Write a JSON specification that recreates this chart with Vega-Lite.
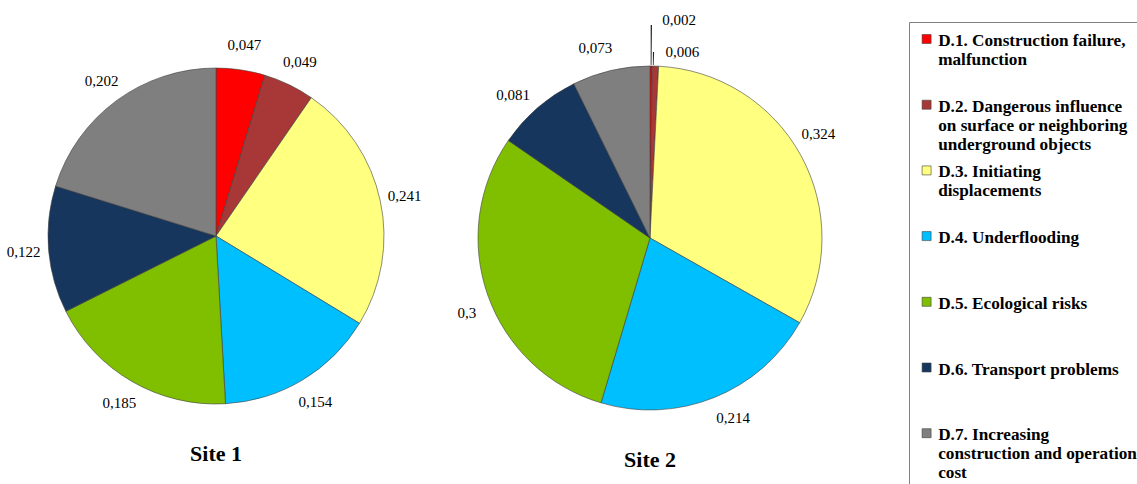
{
  "$schema": "https://vega.github.io/schema/vega-lite/v6.json",
  "padding": 0,
  "background": "white",
  "datasets": {
    "shares": [
      {"site": "Site 1", "category": "D.1. Construction failure,|malfunction", "value": 0.047},
      {"site": "Site 1", "category": "D.2. Dangerous influence|on surface or neighboring|underground objects", "value": 0.049},
      {"site": "Site 1", "category": "D.3. Initiating|displacements", "value": 0.241},
      {"site": "Site 1", "category": "D.4. Underflooding", "value": 0.154},
      {"site": "Site 1", "category": "D.5. Ecological risks", "value": 0.185},
      {"site": "Site 1", "category": "D.6. Transport problems", "value": 0.122},
      {"site": "Site 1", "category": "D.7. Increasing|construction and operation|cost", "value": 0.202},
      {"site": "Site 2", "category": "D.1. Construction failure,|malfunction", "value": 0.002},
      {"site": "Site 2", "category": "D.2. Dangerous influence|on surface or neighboring|underground objects", "value": 0.006},
      {"site": "Site 2", "category": "D.3. Initiating|displacements", "value": 0.324},
      {"site": "Site 2", "category": "D.4. Underflooding", "value": 0.214},
      {"site": "Site 2", "category": "D.5. Ecological risks", "value": 0.3},
      {"site": "Site 2", "category": "D.6. Transport problems", "value": 0.081},
      {"site": "Site 2", "category": "D.7. Increasing|construction and operation|cost", "value": 0.073}
    ]
  },
  "data": {"name": "shares"},
  "config": {
    "view": {"stroke": null},
    "locale": {"number": {"decimal": ",", "thousands": ".", "grouping": [3], "currency": ["", ""]}},
    "text": {"font": "Liberation Serif", "fontSize": 15, "color": "black"},
    "title": {"font": "Liberation Serif", "fontSize": 22, "fontWeight": "bold", "color": "black"}
  },
  "hconcat": [
    {
      "width": 432,
      "height": 472,
      "title": {"text": "Site 1", "orient": "bottom", "offset": -28, "anchor": "middle"},
      "transform": [{"filter": "datum.site === 'Site 1'"}],
      "encoding": {
        "theta": {"field": "value", "type": "quantitative", "stack": true},
        "order": {"field": "category", "sort": "ascending"}
      },
      "layer": [
        {
          "mark": {"type": "arc", "outerRadius": 168, "stroke": "#404040", "strokeWidth": 0.6},
          "encoding": {
            "color": {
              "field": "category", "type": "nominal",
              "scale": {
                "domain": ["D.1. Construction failure,|malfunction", "D.2. Dangerous influence|on surface or neighboring|underground objects", "D.3. Initiating|displacements", "D.4. Underflooding", "D.5. Ecological risks", "D.6. Transport problems", "D.7. Increasing|construction and operation|cost"],
                "range": ["#FF0000", "#A83838", "#FFFF80", "#00BFFF", "#7FBF00", "#17365D", "#7F7F7F"]
              },
              "legend": {
                "orient": "none", "legendX": 909, "legendY": 22,
                "title": null,
                "strokeColor": "#808080", "padding": 9,
                "symbolType": "square", "symbolSize": 81, "symbolStrokeColor": "#404040", "symbolStrokeWidth": 0.6,
                "labelFont": "Liberation Serif", "labelFontSize": 17.2, "labelFontWeight": "bold", "labelColor": "black",
                "labelBaseline": "top", "labelLimit": 300, "labelOffset": 3,
                "labelExpr": "split(datum.label, '|')",
                "clipHeight": 60, "rowPadding": 5.7,
                "encode": {
                  "labels": {"update": {"lineHeight": {"value": 19}, "y": {"value": 1}}},
                  "symbols": {"update": {"y": {"value": 8}}}
                }
              }
            }
          }
        },
        {
          "mark": {"type": "text", "radius": 193},
          "encoding": {"text": {"field": "value", "type": "quantitative", "format": ".3~f"}}
        }
      ]
    },
    {
      "width": 432,
      "height": 476,
      "title": {"text": "Site 2", "orient": "bottom", "offset": -26, "anchor": "middle"},
      "transform": [{"filter": "datum.site === 'Site 2'"}],
      "encoding": {
        "theta": {"field": "value", "type": "quantitative", "stack": true},
        "order": {"field": "category", "sort": "ascending"}
      },
      "layer": [
        {
          "mark": {"type": "arc", "outerRadius": 172, "stroke": "#404040", "strokeWidth": 0.6},
          "encoding": {"color": {"field": "category", "type": "nominal"}}
        },
        {
          "transform": [{"filter": "datum.value === 0.002"}],
          "mark": {"type": "arc", "innerRadius": 173, "outerRadius": 213, "padAngle": 0.005, "fill": "#222222", "strokeWidth": 0}
        },
        {
          "transform": [{"filter": "datum.value === 0.006"}],
          "mark": {"type": "arc", "innerRadius": 173, "outerRadius": 186, "padAngle": 0.0228, "fill": "#222222", "strokeWidth": 0}
        },
        {
          "transform": [{"filter": "datum.value > 0.01"}],
          "mark": {"type": "text", "radius": 198},
          "encoding": {"text": {"field": "value", "type": "quantitative", "format": ".3~f"}}
        },
        {
          "transform": [{"filter": "datum.value === 0.002"}],
          "mark": {"type": "text", "radius": 218, "align": "left", "dx": 11},
          "encoding": {"text": {"field": "value", "type": "quantitative", "format": ".3~f"}}
        },
        {
          "transform": [{"filter": "datum.value === 0.006"}],
          "mark": {"type": "text", "radius": 186, "align": "left", "dx": 12},
          "encoding": {"text": {"field": "value", "type": "quantitative", "format": ".3~f"}}
        }
      ]
    }
  ],
  "spacing": 2
}
